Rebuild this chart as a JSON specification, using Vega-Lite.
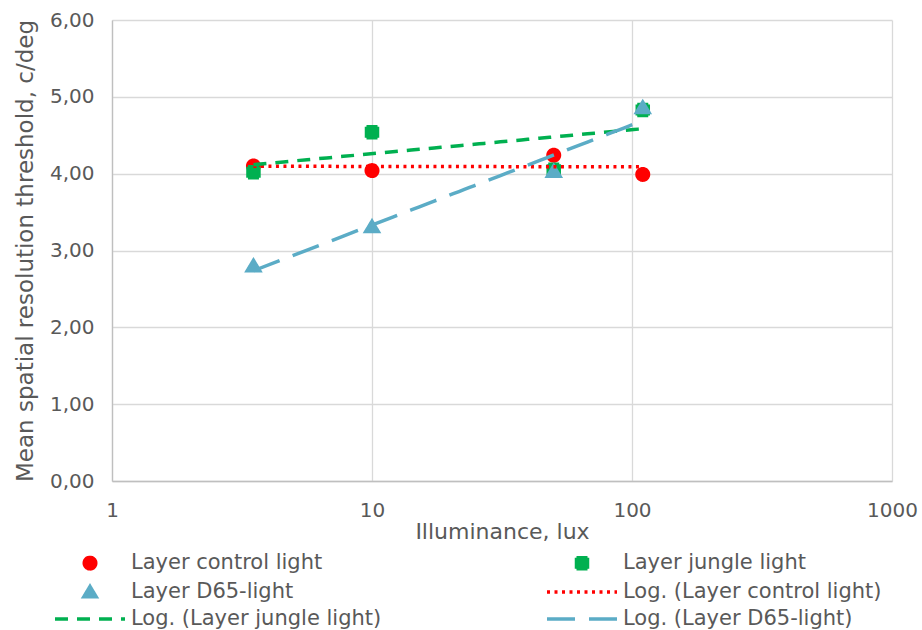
{
  "$schema": "https://vega.github.io/schema/vega-lite/v6.json",
  "width": 780,
  "height": 461,
  "autosize": {"type": "none"},
  "padding": {"left": 112, "top": 20, "right": 30, "bottom": 149},
  "background": "white",
  "config": {
    "view": {"stroke": null},
    "font": "DejaVu Sans",
    "axis": {
      "gridColor": "#d9d9d9",
      "gridWidth": 1.3,
      "domainColor": "#bfbfbf",
      "domainWidth": 1.3,
      "ticks": false,
      "labelColor": "#595959",
      "labelFont": "DejaVu Sans",
      "labelFontSize": 20,
      "titleColor": "#595959",
      "titleFont": "DejaVu Sans",
      "titleFontWeight": "normal"
    },
    "legend": {"symbolStrokeWidth": 3.5}
  },
  "data": {
    "values": [
      {"lux": 3.5, "res": 4.10, "series": "Layer control light", "trend": "Log. (Layer control light)"},
      {"lux": 10, "res": 4.04, "series": "Layer control light", "trend": "Log. (Layer control light)"},
      {"lux": 50, "res": 4.24, "series": "Layer control light", "trend": "Log. (Layer control light)"},
      {"lux": 110, "res": 3.99, "series": "Layer control light", "trend": "Log. (Layer control light)"},
      {"lux": 3.5, "res": 4.02, "series": "Layer jungle light", "trend": "Log. (Layer jungle light)"},
      {"lux": 10, "res": 4.54, "series": "Layer jungle light", "trend": "Log. (Layer jungle light)"},
      {"lux": 50, "res": 4.05, "series": "Layer jungle light", "trend": "Log. (Layer jungle light)"},
      {"lux": 110, "res": 4.83, "series": "Layer jungle light", "trend": "Log. (Layer jungle light)"},
      {"lux": 3.5, "res": 2.80, "series": "Layer D65-light", "trend": "Log. (Layer D65-light)"},
      {"lux": 10, "res": 3.31, "series": "Layer D65-light", "trend": "Log. (Layer D65-light)"},
      {"lux": 50, "res": 4.03, "series": "Layer D65-light", "trend": "Log. (Layer D65-light)"},
      {"lux": 110, "res": 4.86, "series": "Layer D65-light", "trend": "Log. (Layer D65-light)"}
    ]
  },
  "layer": [
    {
      "mark": {"type": "point", "filled": true, "opacity": 1, "size": 400, "strokeWidth": 3.5},
      "encoding": {
        "x": {
          "field": "lux",
          "type": "quantitative",
          "scale": {"type": "log", "domain": [1, 1000], "nice": false},
          "axis": {
            "title": "Illuminance, lux",
            "titleFontSize": 22,
            "titlePadding": 1,
            "values": [1, 10, 100, 1000],
            "format": "d",
            "labelFlush": false,
            "labelPadding": 19,
            "grid": true
          }
        },
        "y": {
          "field": "res",
          "type": "quantitative",
          "scale": {"domain": [0, 6], "nice": false},
          "axis": {
            "title": "Mean spatial resolution threshold, c/deg",
            "titleFontSize": 23,
            "titlePadding": 12,
            "values": [0, 1, 2, 3, 4, 5, 6],
            "labelExpr": "replace(format(datum.value, '.2f'), '.', ',')",
            "labelPadding": 18,
            "grid": true
          }
        },
        "color": {
          "field": "series",
          "type": "nominal",
          "scale": {
            "domain": [
              "Layer control light",
              "Layer jungle light",
              "Layer D65-light",
              "Log. (Layer control light)",
              "Log. (Layer jungle light)",
              "Log. (Layer D65-light)"
            ],
            "range": ["#ff0000", "#00b050", "#5bacc6", "#ff0000", "#00b050", "#5bacc6"]
          },
          "legend": {
            "title": null,
            "orient": "none",
            "direction": "horizontal",
            "legendX": -57,
            "legendY": 531,
            "columns": 2,
            "columnPadding": 158,
            "rowPadding": 3,
            "symbolSize": 400,
            "symbolStrokeWidth": 3.5,
            "symbolOffset": 23,
            "labelFont": "DejaVu Sans",
            "labelFontSize": 21,
            "labelColor": "#595959",
            "labelOffset": 29,
            "labelLimit": 400
          }
        },
        "stroke": {
          "field": "series",
          "type": "nominal",
          "scale": {
            "domain": [
              "Layer control light",
              "Layer jungle light",
              "Layer D65-light",
              "Log. (Layer control light)",
              "Log. (Layer jungle light)",
              "Log. (Layer D65-light)"
            ],
            "range": ["#ff0000", "#00b050", "#5bacc6", "#ff0000", "#00b050", "#5bacc6"]
          },
          "legend": {"title": null}
        },
        "shape": {
          "field": "series",
          "type": "nominal",
          "scale": {
            "domain": [
              "Layer control light",
              "Layer jungle light",
              "Layer D65-light",
              "Log. (Layer control light)",
              "Log. (Layer jungle light)",
              "Log. (Layer D65-light)"
            ],
            "range": [
              "M-0.575,0A0.575,0.575,0,1,1,0.575,0A0.575,0.575,0,1,1,-0.575,0Z",
              "M-0.55,-0.55H0.55V0.55H-0.55Z",
              "M0,-0.55L0.62,0.48H-0.62Z",
              "M-3.5,0H3.5",
              "M-3.5,0H3.5",
              "M-3.5,0H3.5"
            ]
          },
          "legend": {"title": null}
        },
        "strokeDash": {
          "field": "series",
          "type": "nominal",
          "scale": {
            "domain": [
              "Layer control light",
              "Layer jungle light",
              "Layer D65-light",
              "Log. (Layer control light)",
              "Log. (Layer jungle light)",
              "Log. (Layer D65-light)"
            ],
            "range": [[1, 0], [1, 0], [1, 0], [3, 4.5], [13, 9], [28, 14]]
          },
          "legend": {"title": null}
        }
      }
    },
    {
      "transform": [
        {"regression": "res", "on": "lux", "method": "log", "groupby": ["trend"]}
      ],
      "mark": {"type": "line", "strokeWidth": 3.5},
      "encoding": {
        "x": {"field": "lux", "type": "quantitative"},
        "y": {"field": "res", "type": "quantitative"},
        "color": {"field": "trend", "type": "nominal", "legend": null},
        "strokeDash": {"field": "trend", "type": "nominal", "legend": null}
      }
    }
  ]
}
